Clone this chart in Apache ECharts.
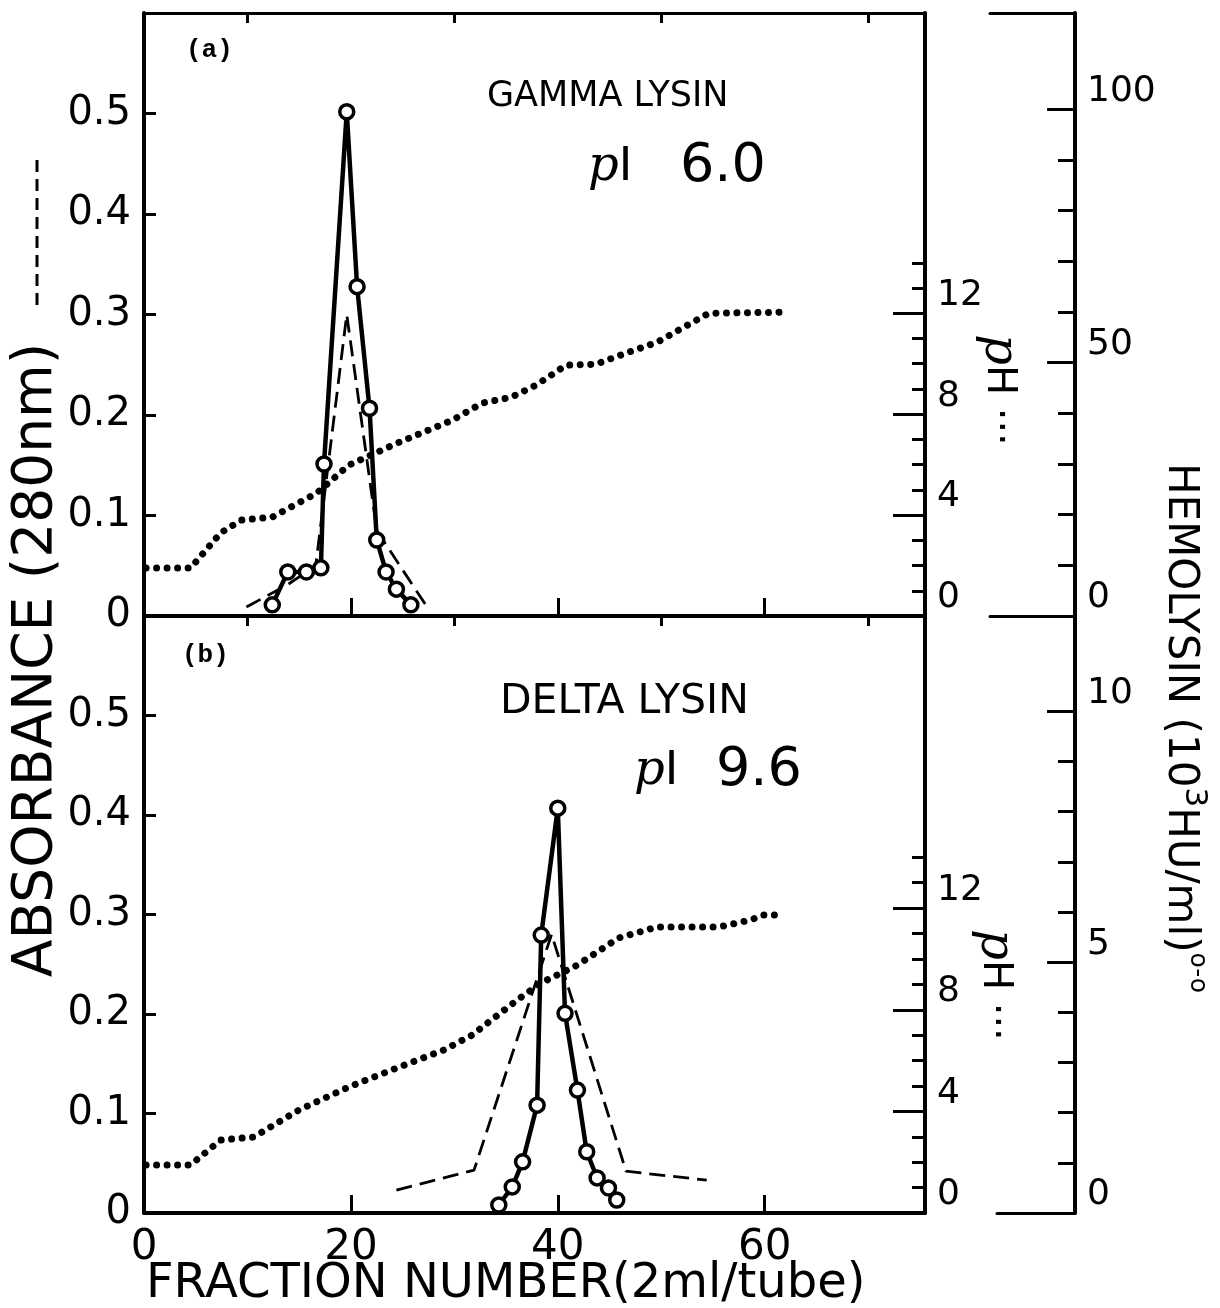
<!DOCTYPE html>
<html>
<head>
<meta charset="utf-8">
<script src="https://cdn.jsdelivr.net/npm/echarts@6/dist/echarts.min.js"></script>
<style>
  html, body { margin: 0; padding: 0; background: #fff; }
  #chart { width: 1220px; height: 1308px; }
</style>
</head>
<body>
<div id="chart"></div>
<script>
// ---- Panel (a): gamma lysin, isoelectric focusing profile ----
const gammaAbsFraction = [9.9, 13.7, 16.6, 19.6, 22.5, 27.3];
const gammaAbsorbance  = [0.009, 0.03, 0.05, 0.30, 0.085, 0.01];

const gammaHemoFraction = [12.4, 13.9, 15.7, 17.1, 17.4, 19.6, 20.6, 21.8, 22.5, 23.4, 24.4, 25.8];
const gammaHemolysin    = [2.2, 8.7, 8.7, 9.5, 30, 99.5, 65, 41, 15, 8.7, 5.3, 2.2];

const gammaPhFraction = [0.2, 4.5, 7.4, 9.4, 12.4, 16.7, 19.8, 24.7, 29.8, 32.7, 35.5, 37.9, 40.8, 43.7, 46.6, 49.6, 52.5, 54.6, 61.7];
const gammaPh         = [1.90, 1.90, 3.29, 3.80, 3.92, 4.87, 5.98, 6.89, 7.76, 8.44, 8.67, 9.15, 9.94, 9.98, 10.42, 10.85, 11.52, 12.0, 12.04];

// ---- Panel (b): delta lysin ----
const deltaAbsFraction = [24.4, 31.9, 39.4, 46.6, 54.4];
const deltaAbsorbance  = [0.023, 0.043, 0.28, 0.042, 0.033];

const deltaHemoFraction = [34.3, 35.6, 36.6, 38.0, 38.4, 40.0, 40.7, 41.9, 42.8, 43.8, 44.9, 45.7];
const deltaHemolysin    = [0.16, 0.52, 1.02, 2.15, 5.54, 8.07, 3.98, 2.45, 1.22, 0.70, 0.50, 0.26];

const deltaPhFraction = [0.2, 4.5, 7.4, 10.6, 15.0, 19.8, 24.7, 29.0, 31.7, 36.1, 38.4, 41.9, 45.9, 49.6, 55.6, 58.7, 59.8, 61.7];
const deltaPh         = [1.89, 1.89, 2.87, 2.99, 4.06, 4.96, 5.75, 6.42, 7.0, 8.39, 9.06, 9.76, 10.83, 11.26, 11.26, 11.54, 11.73, 11.73];

// ---- Tick and label values ----
const fractionLabels     = [0, 20, 40, 60];
const fractionMajorTicks = [20, 40, 60];
const fractionMinorTicks = [10, 30, 50, 70];
const absorbanceLabels   = [0, 0.1, 0.2, 0.3, 0.4, 0.5];
const absorbanceTicks    = [0.1, 0.2, 0.3, 0.4, 0.5];
const phLabels           = [0, 4, 8, 12];
const phMinorTicks       = [1, 2, 3, 5, 6, 7, 9, 10, 11, 13, 14];
const gammaHemoLabels    = [0, 50, 100];
const gammaHemoMajor     = [50, 100];
const gammaHemoMinor     = [10, 20, 30, 40, 60, 70, 80, 90];
const deltaHemoLabels    = [0, 5, 10];
const deltaHemoMajor     = [5, 10];
const deltaHemoMinor     = [1, 2, 3, 4, 6, 7, 8, 9];

const pairs = (xs, ys) => xs.map((x, i) => [x, ys[i]]);

const FONT = 'DejaVu Sans';
const INK = '#000';
const X_MAX = 75.5;

function line(w) { return { show: true, onZero: false, lineStyle: { color: INK, width: w } }; }
const hiddenLine = { show: false, onZero: false };
function ticks(values, len) {
  return { show: true, inside: true, length: len, customValues: values, lineStyle: { color: INK, width: 3 } };
}
const noTick = { show: false };
const noLabel = { show: false };
const noSplit = { show: false };

function fractionAxis(grid, opts) {
  return Object.assign({
    type: 'value', gridIndex: grid, min: 0, max: X_MAX,
    axisLine: hiddenLine, axisTick: noTick, axisLabel: noLabel, splitLine: noSplit
  }, opts);
}
function valueAxis(grid, min, max, opts) {
  return Object.assign({
    type: 'value', gridIndex: grid, min: min, max: max,
    axisLine: hiddenLine, axisTick: noTick, axisLabel: noLabel, splitLine: noSplit
  }, opts);
}

const absLabel = {
  show: true, customValues: absorbanceLabels, margin: 13,
  fontFamily: FONT, fontSize: 40, color: INK,
  formatter: v => (v === 0 ? '0' : v.toFixed(1))
};
const sideLabel = (values, size) => ({
  show: true, customValues: values, margin: 12, verticalAlign: 'bottom',
  fontFamily: FONT, fontSize: size, color: INK, formatter: v => String(v)
});

const dotted = { color: INK, width: 7, type: [0.01, 10.5], cap: 'round' };
const dashed = { color: INK, width: 2.8, type: [16, 8] };
const hollow = { color: '#fff', borderColor: INK, borderWidth: 3.5 };

// rotated title text (rich text, single line)
function label(x, y, rotation, text, font, rich, lineHeight) {
  return {
    type: 'text', x: x, y: y, rotation: rotation,
    style: Object.assign({ text: text, font: font, fill: INK, textAlign: 'center', textVerticalAlign: 'middle' },
      rich ? { rich: rich } : {}, lineHeight ? { lineHeight: lineHeight } : {})
  };
}
function leftText(x, y, text, font, rich) {
  return {
    type: 'text', x: x, y: y,
    style: Object.assign({ text: text, font: font, fill: INK, textAlign: 'left', textVerticalAlign: 'middle' }, rich ? { rich: rich } : {})
  };
}
const italicP = { p: { fontStyle: 'italic', fontFamily: 'DejaVu Serif', fontSize: 48 } };

const option = {
  animation: false,
  backgroundColor: '#fff',
  grid: [
    { left: 144, top: 13, width: 781, height: 603 },   // plot (a)
    { left: 144, top: 616, width: 781, height: 597 },  // plot (b)
    { left: 990, top: 13, width: 85, height: 603 },    // hemolysin scale (a)
    { left: 997, top: 616, width: 78, height: 597 }    // hemolysin scale (b)
  ],
  xAxis: [
    fractionAxis(0, { axisLine: line(4), axisTick: ticks(fractionMajorTicks, 18) }),
    fractionAxis(0, { axisTick: ticks(fractionMinorTicks, 10) }),
    fractionAxis(0, { position: 'top', axisLine: line(3) }),
    fractionAxis(1, {
      axisLine: line(4), axisTick: ticks(fractionMajorTicks, 18),
      axisLabel: { show: true, customValues: fractionLabels, margin: 14, fontFamily: FONT, fontSize: 42, color: INK }
    }),
    fractionAxis(1, { axisTick: ticks(fractionMinorTicks, 10) }),
    valueAxis(2, 0, 1, { axisLine: line(3) }),
    valueAxis(2, 0, 1, { position: 'top', axisLine: line(3) }),
    valueAxis(3, 0, 1, { axisLine: line(3) })
  ],
  yAxis: [
    // panel (a)
    valueAxis(0, 0, 0.6, { position: 'left', axisLine: line(4), axisTick: ticks(absorbanceTicks, 12), axisLabel: absLabel }),
    valueAxis(0, 0, 23.9, { position: 'right', axisLine: line(4), axisTick: ticks(phLabels, 32), axisLabel: sideLabel(phLabels, 36) }),
    valueAxis(0, 0, 23.9, { position: 'right', axisTick: ticks(phMinorTicks, 13) }),
    valueAxis(0, 0, 119, { position: 'right', show: false }),
    // panel (b)
    valueAxis(1, 0, 0.6, { position: 'left', axisLine: line(4), axisTick: ticks(absorbanceTicks, 12), axisLabel: absLabel }),
    valueAxis(1, 0, 23.5, { position: 'right', axisLine: line(4), axisTick: ticks(phLabels, 32), axisLabel: sideLabel(phLabels, 36) }),
    valueAxis(1, 0, 23.5, { position: 'right', axisTick: ticks(phMinorTicks, 13) }),
    valueAxis(1, 0, 11.9, { position: 'right', show: false }),
    // hemolysin scales
    valueAxis(2, 0, 119, { position: 'right', axisLine: line(4), axisTick: ticks(gammaHemoMinor, 17), axisLabel: sideLabel(gammaHemoLabels, 36) }),
    valueAxis(2, 0, 119, { position: 'right', axisTick: ticks(gammaHemoMajor, 28) }),
    valueAxis(3, 0, 11.9, { position: 'right', axisLine: line(4), axisTick: ticks(deltaHemoMinor, 17), axisLabel: sideLabel(deltaHemoLabels, 36) }),
    valueAxis(3, 0, 11.9, { position: 'right', axisTick: ticks(deltaHemoMajor, 28) })
  ],
  series: [
    { name: 'pH (a)', type: 'line', xAxisIndex: 0, yAxisIndex: 1, symbol: 'none', silent: true,
      data: pairs(gammaPhFraction, gammaPh), lineStyle: dotted },
    { name: 'Absorbance (a)', type: 'line', xAxisIndex: 0, yAxisIndex: 0, symbol: 'none', silent: true,
      data: pairs(gammaAbsFraction, gammaAbsorbance), lineStyle: dashed },
    { name: 'Hemolysin (a)', type: 'line', xAxisIndex: 0, yAxisIndex: 3, silent: true,
      symbol: 'circle', symbolSize: 14, data: pairs(gammaHemoFraction, gammaHemolysin),
      lineStyle: { color: INK, width: 4.5 }, itemStyle: hollow },
    { name: 'pH (b)', type: 'line', xAxisIndex: 3, yAxisIndex: 5, symbol: 'none', silent: true,
      data: pairs(deltaPhFraction, deltaPh), lineStyle: dotted },
    { name: 'Absorbance (b)', type: 'line', xAxisIndex: 3, yAxisIndex: 4, symbol: 'none', silent: true,
      data: pairs(deltaAbsFraction, deltaAbsorbance), lineStyle: dashed },
    { name: 'Hemolysin (b)', type: 'line', xAxisIndex: 3, yAxisIndex: 7, silent: true,
      symbol: 'circle', symbolSize: 14, data: pairs(deltaHemoFraction, deltaHemolysin),
      lineStyle: { color: INK, width: 4.5 }, itemStyle: hollow }
  ],
  graphic: [
    leftText(186, 50, '(a)', 'bold 26px "Liberation Mono"'),
    leftText(182, 655, '(b)', 'bold 26px "Liberation Mono"'),
    leftText(487, 97, 'GAMMA LYSIN', '35px "DejaVu Sans"'),
    leftText(588, 168, '{p|p}I', '46px "DejaVu Sans"', italicP),
    leftText(680, 167, '6.0', '54px "DejaVu Sans"'),
    leftText(500, 702, 'DELTA LYSIN', '41px "DejaVu Sans"'),
    leftText(634, 772, '{p|p}I', '46px "DejaVu Sans"', italicP),
    leftText(716, 771, '9.6', '54px "DejaVu Sans"'),
    // absorbance title with its dashed-line key
    label(37, 660, Math.PI / 2, 'ABSORBANCE (280nm)', '55px "DejaVu Sans"'),
    { type: 'line', shape: { x1: 37, y1: 305, x2: 37, y2: 160 }, style: { stroke: INK, lineWidth: 3, lineDash: [12, 7] } },
    // pH titles with dotted key
    label(998, 390, -Math.PI / 2, '{p|p}H \u00b7\u00b7\u00b7', '40px "DejaVu Sans"', italicP),
    label(994, 985, -Math.PI / 2, '{p|p}H \u00b7\u00b7\u00b7', '40px "DejaVu Sans"', italicP),
    // hemolysin title with circle-line key
    label(1180, 728, -Math.PI / 2, 'HEMOLYSIN (10{s|3}HU/ml){k|o-o}', '42px "DejaVu Sans"', {
      s: { fontSize: 31, lineHeight: 30, verticalAlign: 'top', fontFamily: FONT },
      k: { fontSize: 25, lineHeight: 30, verticalAlign: 'top', fontFamily: FONT }
    }, 60),
    // fraction axis title
    leftText(146, 1285, 'FRACTION NUMBER(2ml/tube)', '48px "DejaVu Sans"')
  ]
};

echarts.init(document.getElementById('chart'), null, { renderer: 'canvas' }).setOption(option);
</script>
</body>
</html>
